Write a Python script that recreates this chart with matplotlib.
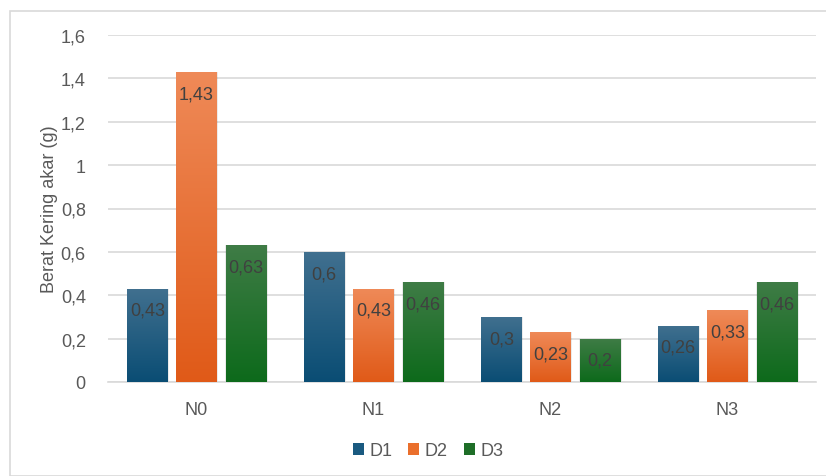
import numpy as np
import matplotlib
matplotlib.use('Agg')
import matplotlib.pyplot as plt
from matplotlib.colors import LinearSegmentedColormap
from matplotlib.patches import Rectangle

plt.rcParams['font.family'] = ['Liberation Sans', 'DejaVu Sans']

categories = ['N0', 'N1', 'N2', 'N3']
series = ['D1', 'D2', 'D3']
d1 = [0.43, 0.6, 0.3, 0.26]
d2 = [1.43, 0.43, 0.23, 0.33]
d3 = [0.63, 0.46, 0.2, 0.46]
values = [d1, d2, d3]

# top / bottom colours of the gradient fill
tops = ['#41708f', '#ef8a58', '#3f7c46']
bottoms = ['#0a4d74', '#e05a18', '#0d6a1b']
solid = ['#1a5a80', '#ea6f2c', '#1e6e28']

fig = plt.figure(figsize=(8.26, 4.77), dpi=100)
fig.patches.append(Rectangle((10 / 826, 0), 1, 1 - 12 / 477, transform=fig.transFigure,
                             fill=False, edgecolor='#d9d9d9', linewidth=1.2))
ax = fig.add_axes([108 / 826, 1 - 383 / 477, 708 / 826, (383 - 36) / 477])

x = np.arange(len(categories))
width = 0.227
step = 0.278
grad = np.linspace(0, 1, 256).reshape(-1, 1)

handles = []
for i, (vals, name) in enumerate(zip(values, series)):
    pos = x + (i - 1) * step
    # faint shadow behind each bar
    ax.bar(pos + 0.004, vals, width + 0.012, color='#000000', alpha=0.08, zorder=2)
    bars = ax.bar(pos, vals, width, color=solid[i], label=name, zorder=3)
    handles.append(bars)
    cmap = LinearSegmentedColormap.from_list(name, [bottoms[i], tops[i]])
    for b, v in zip(bars, vals):
        bx = b.get_x()
        im = ax.imshow(grad, extent=(bx, bx + width, 0, v), origin='lower',
                       aspect='auto', cmap=cmap, zorder=4)
        im.set_clip_path(b)
        ax.text(bx + width / 2, v - 0.1, str(v).replace('.', ','), ha='center', va='center',
                fontsize=13, color='#404040', zorder=5)

ax.set_xlim(-0.5, 3.5)
ax.set_ylim(0, 1.6)
ax.set_yticks(np.arange(0, 1.61, 0.2))
ax.set_yticklabels(['0', '0,2', '0,4', '0,6', '0,8', '1', '1,2', '1,4', '1,6'])
ax.set_xticks(x)
ax.set_xticklabels(categories)
ax.tick_params(length=0, labelsize=13, colors='#595959')
ax.tick_params(axis='x', pad=14)
ax.tick_params(axis='y', pad=16)
ax.grid(axis='y', color='#d9d9d9', linewidth=1.2, zorder=0)
ax.set_axisbelow(True)
for s in ['top', 'right', 'left']:
    ax.spines[s].set_visible(False)
ax.spines['bottom'].set_color('#d9d9d9')
ax.spines['bottom'].set_linewidth(1.2)
ax.set_ylabel('Berat Kering akar (g)', fontsize=13, color='#595959', labelpad=2)

fig.legend(handles, series, loc='center', bbox_to_anchor=(428 / 826, 1 - 452 / 477), ncol=3,
           frameon=False, fontsize=13, handlelength=0.6, handleheight=0.6, handletextpad=0.3,
           columnspacing=0.9, labelcolor='#595959')

fig.savefig('out.png', dpi=100)
